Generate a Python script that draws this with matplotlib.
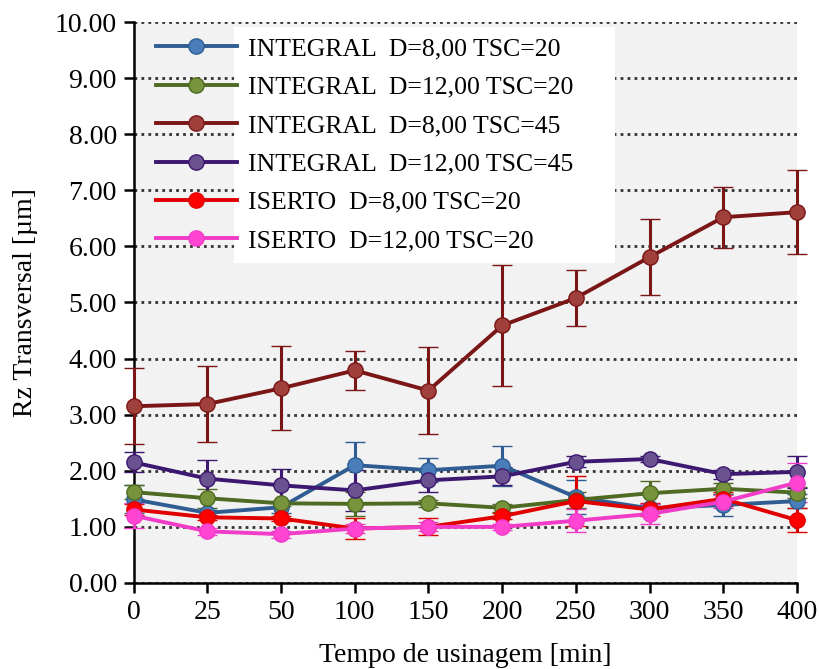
import matplotlib
matplotlib.use("Agg")
import matplotlib.pyplot as plt
from matplotlib.patches import Rectangle
import numpy as np

# tempo de usinagem (categorias igualmente espaçadas)
times = ["0", "25", "50", "100", "150", "200", "250", "300", "350", "400"]

labels = [
    "INTEGRAL  D=8,00 TSC=20",
    "INTEGRAL  D=12,00 TSC=20",
    "INTEGRAL  D=8,00 TSC=45",
    "INTEGRAL  D=12,00 TSC=45",
    "ISERTO  D=8,00 TSC=20",
    "ISERTO  D=12,00 TSC=20",
]

int_8_20 = [1.49, 1.25, 1.35, 2.10, 2.01, 2.09, 1.53, 1.33, 1.39, 1.46]
int_8_20_err = [0.25, 0.05, 0.10, 0.42, 0.21, 0.36, 0.30, 0.08, 0.20, 0.12]
int_12_20 = [1.62, 1.51, 1.42, 1.41, 1.42, 1.34, 1.48, 1.60, 1.68, 1.61]
int_12_20_err = [0.12, 0.17, 0.05, 0.22, 0.06, 0.07, 0.15, 0.22, 0.10, 0.10]
int_8_45 = [3.15, 3.19, 3.47, 3.79, 3.43, 4.59, 5.08, 5.81, 6.52, 6.61]
int_8_45_err = [0.68, 0.67, 0.75, 0.35, 0.78, 1.07, 0.50, 0.67, 0.54, 0.75]
int_12_45 = [2.15, 1.86, 1.74, 1.65, 1.83, 1.90, 2.16, 2.21, 1.94, 1.98]
int_12_45_err = [0.18, 0.34, 0.29, 0.36, 0.20, 0.16, 0.10, 0.05, 0.08, 0.29]
ins_8_20 = [1.31, 1.17, 1.15, 0.97, 1.00, 1.19, 1.46, 1.31, 1.50, 1.12]
ins_8_20_err = [0.10, 0.05, 0.05, 0.18, 0.15, 0.05, 0.44, 0.12, 0.12, 0.21]
ins_12_20 = [1.20, 0.92, 0.87, 0.97, 1.00, 1.00, 1.11, 1.23, 1.45, 1.79]
ins_12_20_err = [0.22, 0.06, 0.06, 0.08, 0.08, 0.05, 0.21, 0.18, 0.12, 0.35]

series = [int_8_20, int_12_20, int_8_45, int_12_45, ins_8_20, ins_12_20]
errors = [int_8_20_err, int_12_20_err, int_8_45_err, int_12_45_err,
          ins_8_20_err, ins_12_20_err]
line_colors = ["#2f5d93", "#4f6a22", "#7a1616", "#3d1870", "#e00000", "#f03cc8"]
face_colors = ["#4a7ebb", "#77933c", "#a0403d", "#6a5290", "#ff0000", "#ff45d2"]

plt.rcParams["font.family"] = ["Liberation Serif", "DejaVu Serif"]

fig = plt.figure(figsize=(8.2, 6.69), dpi=100)
ax = fig.add_axes([0.163, 0.1286, 0.809, 0.8385])
ax.set_facecolor("#f2f2f2")

x = np.arange(len(times))
handles = []
for vals, err, lc, fc, lab in zip(series, errors, line_colors, face_colors, labels):
    cont = ax.errorbar(x, vals, yerr=err, color=lc, lw=2.8, marker="o",
                       ms=11, mfc=fc, mec=lc, mew=1, ecolor=lc,
                       elinewidth=2.2, capsize=7, capthick=2.5, label=lab,
                       zorder=3, clip_on=False)
    handles.append(cont.lines[0])

ax.set_xlim(0, len(times) - 1)
ax.set_ylim(0, 10)
ax.set_xticks(x)
ax.set_xticklabels(times)
ax.set_yticks(np.arange(0, 11, 1))
ax.set_yticklabels([f"{v:.2f}" for v in range(11)])
ax.tick_params(labelsize=20, direction="out", length=7, width=1.8,
               color="black", pad=5)

ax.yaxis.grid(True, linestyle=(0, (1, 1.5)), color="#333333", lw=2)
ax.set_axisbelow(True)
for s in ["top", "right"]:
    ax.spines[s].set_visible(False)
for s in ["left", "bottom"]:
    ax.spines[s].set_linewidth(1.8)

ax.set_xlabel("Tempo de usinagem [min]", fontsize=20, labelpad=13)
ax.set_ylabel("Rz Transversal [µm]", fontsize=20, labelpad=12)

# caixa branca atrás do texto da legenda
ax.add_patch(Rectangle((0.152, 0.570), 0.574, 0.421, transform=ax.transAxes,
                       facecolor="white", edgecolor="none", zorder=1))

ax.legend(handles=handles, labels=labels, loc="upper left",
          bbox_to_anchor=(0.018, 0.991), frameon=False, fontsize=18.5,
          handlelength=3.15, handletextpad=0.45, labelspacing=0.6,
          borderaxespad=0)

fig.savefig("out.png", dpi=100)
